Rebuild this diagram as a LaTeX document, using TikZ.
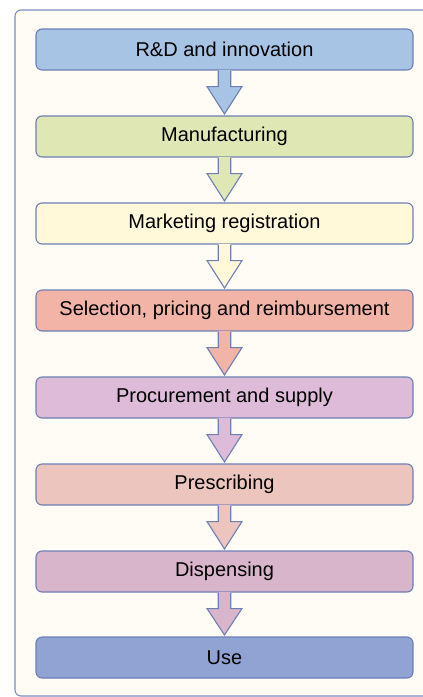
\documentclass[tikz,border=0pt]{standalone}
\usepackage{fontspec}
\setmainfont{Liberation Sans}
\usetikzlibrary{calc}
\definecolor{bordc}{HTML}{6E7FB5}
\definecolor{framec}{HTML}{7D8CC0}
\definecolor{framebg}{HTML}{FFFCF5}
\definecolor{cA}{HTML}{A8C4E4}
\definecolor{cB}{HTML}{DFE8B4}
\definecolor{cC}{HTML}{FFF9DA}
\definecolor{cD}{HTML}{F2B4A6}
\definecolor{cE}{HTML}{DEBCD9}
\definecolor{cF}{HTML}{ECC5BE}
\definecolor{cG}{HTML}{D9B5CB}
\definecolor{cH}{HTML}{90A3D3}
\tikzset{
  stagebox/.style={draw=bordc, line width=1.1pt, rounded corners=6pt,
    minimum width=377pt, minimum height=41pt, inner sep=0pt,
    font=\fontsize{20}{24}\selectfont, text=black},
  flowarrow/.style={draw=bordc, line width=1.1pt, line join=miter}
}
\newcommand{\blockarrow}[3]{%
  \fill[#3] ($(#1.south)+(-6.25pt,0.7pt)$) -- ($(#1.south)+(-6.25pt,-16pt)$) -- ($(#1.south)+(-17.5pt,-16pt)$)
    -- ($(#2.north)+(0,1.5pt)$) -- ($(#1.south)+(17.5pt,-16pt)$) -- ($(#1.south)+(6.25pt,-16pt)$)
    -- ($(#1.south)+(6.25pt,0.7pt)$) -- cycle;
  \draw[flowarrow] ($(#1.south)+(-6.25pt,0)$) -- ($(#1.south)+(-6.25pt,-16pt)$) -- ($(#1.south)+(-17.5pt,-16pt)$)
    -- ($(#2.north)+(0,1.5pt)$) -- ($(#1.south)+(17.5pt,-16pt)$) -- ($(#1.south)+(6.25pt,-16pt)$)
    -- ($(#1.south)+(6.25pt,0)$);
}
\begin{document}
\begin{tikzpicture}[x=1pt,y=-1pt]
\useasboundingbox (0,0) rectangle (423,697);
\clip (0,0) rectangle (423,697);
\draw[draw=framec, fill=framebg, line width=1.1pt, rounded corners=6pt] (15,10) rectangle (450,696);
\node[stagebox, fill=cA] (A) at (224.5,49.5) {R\&D and innovation};
\node[stagebox, fill=cB] (B) at (224.5,136.5) {Manufacturing};
\node[stagebox, fill=cC] (C) at (224.5,223.5) {Marketing registration};
\node[stagebox, fill=cD] (D) at (224.5,310.5) {Selection, pricing and reimbursement};
\node[stagebox, fill=cE] (E) at (224.5,397.5) {Procurement and supply};
\node[stagebox, fill=cF] (F) at (224.5,484.5) {Prescribing};
\node[stagebox, fill=cG] (G) at (224.5,571.5) {Dispensing};
\node[stagebox, fill=cH] (H) at (224.5,657.5) {Use};
\blockarrow{A}{B}{cA}
\blockarrow{B}{C}{cB}
\blockarrow{C}{D}{cC}
\blockarrow{D}{E}{cD}
\blockarrow{E}{F}{cE}
\blockarrow{F}{G}{cF}
\blockarrow{G}{H}{cG}
\end{tikzpicture}
\end{document}
